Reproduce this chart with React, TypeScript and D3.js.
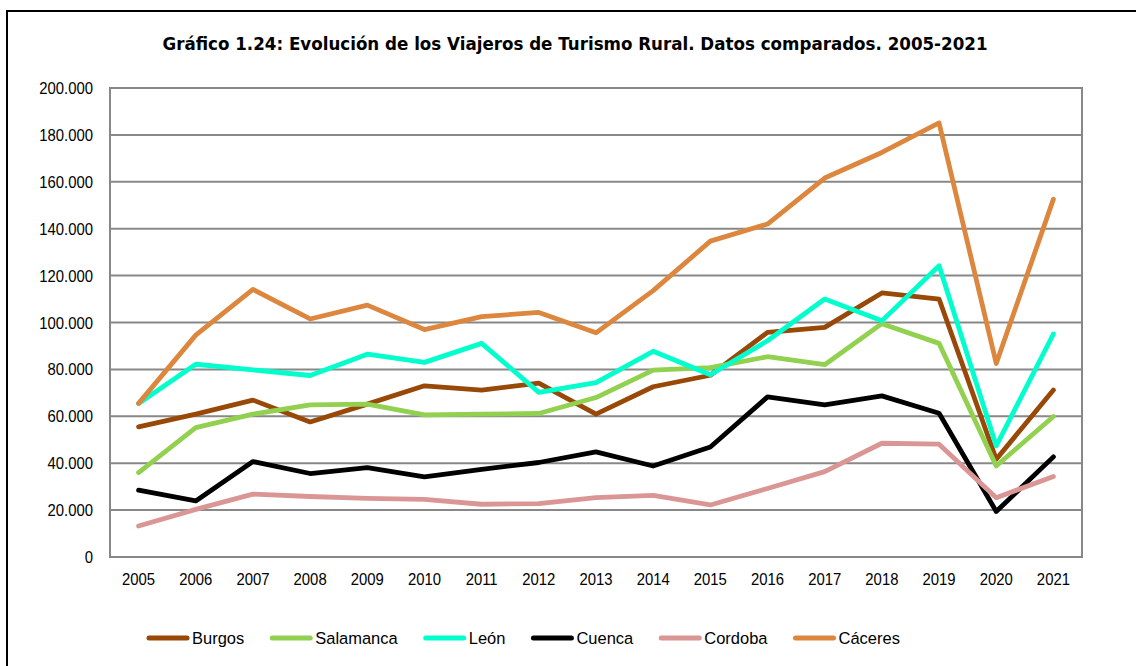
import React from "react";
import * as d3 from "d3";

const years = ["2005","2006","2007","2008","2009","2010","2011","2012","2013","2014","2015","2016","2017","2018","2019","2020","2021"];
const burgos = [55500, 60900, 66900, 57600, 65200, 73000, 71200, 74100, 60900, 72600, 77500, 95800, 97900, 112600, 110000, 41700, 71200];
const salamanca = [36000, 55200, 60900, 64900, 65200, 60600, 60900, 61200, 68000, 79700, 80800, 85400, 82000, 99500, 91100, 38800, 59900];
const leon = [65500, 82200, 79800, 77400, 86500, 83000, 91100, 70200, 74400, 87700, 77700, 92200, 110000, 100700, 124200, 47400, 95100];
const cuenca = [28500, 23900, 40700, 35600, 38100, 34200, 37400, 40300, 44800, 38800, 46900, 68300, 64900, 68700, 61300, 19400, 42700];
const cordoba = [13200, 20300, 26800, 25800, 25000, 24600, 22500, 22800, 25300, 26300, 22200, 29200, 36400, 48500, 48100, 25300, 34300];
const caceres = [65500, 94600, 114100, 101500, 107400, 97000, 102500, 104300, 95600, 113600, 134700, 142000, 161600, 172500, 185100, 82500, 152600];
const seriesNames = ["Burgos", "Salamanca", "León", "Cuenca", "Cordoba", "Cáceres"];
const seriesColors = ["#984807", "#92D050", "#00FFCC", "#000000", "#DA9694", "#DD863D"];
const yTicks = [0, 20000, 40000, 60000, 80000, 100000, 120000, 140000, 160000, 180000, 200000];
const title = "Gráfico 1.24: Evolución de los Viajeros de Turismo Rural. Datos comparados. 2005-2021";

const W = 1136, H = 666;
const plot = { left: 110, right: 1082, top: 88, bottom: 557 };
const axisFont = "'Liberation Sans', Arial, sans-serif";
const NARROW = 0.93;

const fmt = d3.formatLocale({ thousands: ".", grouping: [3], decimal: ",", currency: ["", ""] }).format(",");

function measure(text: string, font: string): number {
  if (typeof document === "undefined") return text.length * 9;
  const c = document.createElement("canvas");
  const ctx = c.getContext("2d");
  if (!ctx) return text.length * 9;
  ctx.font = font;
  return ctx.measureText(text).width;
}

function NText(props: { x: number; y: number; anchor: string; size: number; sx?: number; children: any }) {
  const sx = props.sx ?? NARROW;
  return (
    <text
      transform={`translate(${props.x},${props.y}) scale(${sx},1)`}
      textAnchor={props.anchor as any}
      fontFamily={axisFont}
      fontSize={props.size}
      fill="#000"
    >
      {props.children}
    </text>
  );
}

export default function App() {
  const data = [burgos, salamanca, leon, cuenca, cordoba, caceres];
  const x = d3.scaleBand<string>().domain(years).range([plot.left, plot.right]);
  const cx = (yr: string) => (x(yr) as number) + x.bandwidth() / 2;
  const y = d3.scaleLinear().domain([0, 200000]).range([plot.bottom, plot.top]);
  const line = d3
    .line<number>()
    .x((_, i) => cx(years[i]))
    .y((v) => y(v));

  // legend layout
  const legendFontSize = 17;
  const legendSx = 0.97;
  const legendFont = `${legendFontSize}px 'Liberation Sans'`;
  const keyLen = 42, keyGap = 3, itemGap = 26;
  const widths = seriesNames.map((n) => measure(n, legendFont) * legendSx);
  let lx = 147;
  const legendItems = seriesNames.map((n, i) => {
    const item = { name: n, color: seriesColors[i], x: lx, w: widths[i] };
    lx += keyLen + keyGap + widths[i] + itemGap;
    return item;
  });
  const legendY = 638;

  return (
    <svg width={W} height={H} style={{ position: "absolute", left: 0, top: 0, background: "#fff" }}>
      <rect x={0} y={0} width={W} height={H} fill="#fff" />
      <rect x={7} y={11} width={W + 20} height={H + 20} fill="none" stroke="#000" strokeWidth={2} />
      <text
        x={575}
        y={50}
        textAnchor="middle"
        fontFamily="'DejaVu Sans', Verdana, sans-serif"
        fontWeight="bold"
        fontSize={17.5}
        textLength={825}
        lengthAdjust="spacingAndGlyphs"
      >
        {title}
      </text>
      {yTicks.map((t) => (
        <line key={t} x1={plot.left} x2={plot.right} y1={y(t)} y2={y(t)} stroke="#888888" strokeWidth={2} />
      ))}
      <rect
        x={plot.left}
        y={plot.top}
        width={plot.right - plot.left}
        height={plot.bottom - plot.top}
        fill="none"
        stroke="#888888"
        strokeWidth={2}
      />
      {yTicks.map((t) => (
        <NText key={"l" + t} x={93} y={y(t) + 6} anchor="end" size={16}>
          {fmt(t)}
        </NText>
      ))}
      {years.map((yr) => (
        <NText key={yr} x={cx(yr)} y={585} anchor="middle" size={16}>
          {yr}
        </NText>
      ))}
      {data.map((s, i) => (
        <path
          key={seriesNames[i]}
          d={line(s) as string}
          fill="none"
          stroke={seriesColors[i]}
          strokeWidth={4.8}
          strokeLinejoin="round"
          strokeLinecap="round"
        />
      ))}
      {legendItems.map((it) => (
        <g key={it.name}>
          <line
            x1={it.x + 2}
            x2={it.x + keyLen - 2}
            y1={legendY}
            y2={legendY}
            stroke={it.color}
            strokeWidth={5}
            strokeLinecap="round"
          />
          <NText x={it.x + keyLen + keyGap} y={legendY + 6} anchor="start" size={legendFontSize} sx={legendSx}>
            {it.name}
          </NText>
        </g>
      ))}
    </svg>
  );
}
